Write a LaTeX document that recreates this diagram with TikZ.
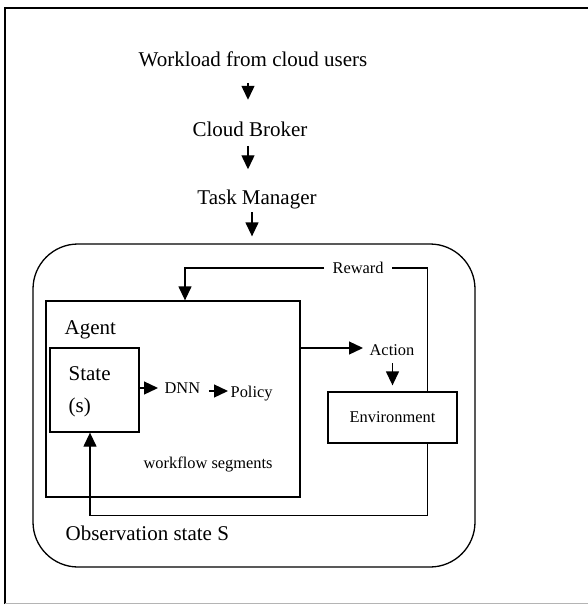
\documentclass[tikz,border=0pt]{standalone}
\usepackage{fontspec}
\setmainfont{Liberation Serif}
\usetikzlibrary{positioning, arrows.meta, calc}
\definecolor{linea}{HTML}{000000}
\definecolor{borde}{HTML}{B4B4B4}

\begin{document}
\begin{tikzpicture}[x=1pt, y=-1pt, line width=1.3pt,
		grande/.style={font=\fontsize{21}{32}\selectfont, inner sep=0pt},
		chico/.style={font=\fontsize{16.4}{20}\selectfont, inner sep=0pt},
		caja/.style={draw=linea, inner sep=0pt},
		flecha/.style={draw=linea, -{Triangle[length=14pt, width=13pt]}}]
				\useasboundingbox (0,0) rectangle (588,605);
				\draw[line width=1.8pt] (5,604) -- (5,8) -- (588,8);
				\draw[borde, line width=1pt] (5,603.5) -- (588,603.5);
				% cadena de entrada
				\node[grande, anchor=base] (workload) at (253,66) {Workload from cloud users};
				\node[grande, anchor=base] (broker) at (250,136) {Cloud Broker};
				\node[grande, anchor=base] (manager) at (257,204) {Task Manager};
				\node[caja, rounded corners=45pt, minimum width=442pt, minimum height=323pt] (loop) at (254,405.5) {};
				\draw[flecha, shorten <=16pt, shorten >=21pt] ([xshift=-5pt]workload.south) -- ([xshift=-5pt]workload.south |- broker.north);
				\draw[flecha, shorten <=9pt, shorten >=19.5pt] ([xshift=-2pt]broker.south) -- ([xshift=-2pt]broker.south |- manager.north);
				\draw[flecha, shorten <=8pt, shorten >=7pt] ([xshift=-5pt]manager.base) -- ([xshift=-5pt]manager.base |- loop.north);
				% agente
				\node[caja, minimum width=254pt, minimum height=196pt] (agent) at (173,399) {};
				\node[grande, anchor=base west] (agentlbl) at (64,334) {Agent};
				\node[caja, minimum width=89pt, minimum height=84pt] (state) at (94.5,390) {};
				\node[grande, anchor=base west, align=left] (statelbl) at (68,412) {State\\(s)};
				\node[chico, anchor=base west] (dnn) at (164,393.5) {DNN};
				\node[chico, anchor=base west] (policy) at (230,397) {Policy};
				\node[chico, anchor=base west] (segments) at (143,468.5) {workflow segments};
				\draw[flecha, shorten >=6pt] (state.east |- 0,388) -- (dnn.west |- 0,388);
				\draw[flecha, shorten <=8pt, shorten >=2pt] (dnn.east |- 0,391) -- (policy.west |- 0,391);
				% entorno
				\node[caja, minimum width=129pt, minimum height=51pt, chico] (env) at (392.5,417.5) {Environment};
				\node[chico, anchor=base west] (action) at (369,355.2) {Action};
				\node[chico, anchor=base west, inner xsep=8pt] (reward) at (324,273.6) {Reward};
				\draw[flecha, shorten >=6pt] (agent.east |- 0,348) -- (action.west |- 0,348);
				\draw[flecha, shorten <=7pt, shorten >=6pt] (env.north |- action.south) -- (env.north);
				\draw[flecha] (reward.west) -| ([xshift=12pt]agent.north);
				\draw (reward.east) -| ([xshift=-30pt]env.north east);
				\draw[flecha] ([xshift=-30pt]env.south east) -- ++(0,72) -| ([xshift=-4.5pt]state.south);
				\node[grande, anchor=base west] (obs) at (65,540) {Observation state S};
			\end{tikzpicture}
\end{document}
